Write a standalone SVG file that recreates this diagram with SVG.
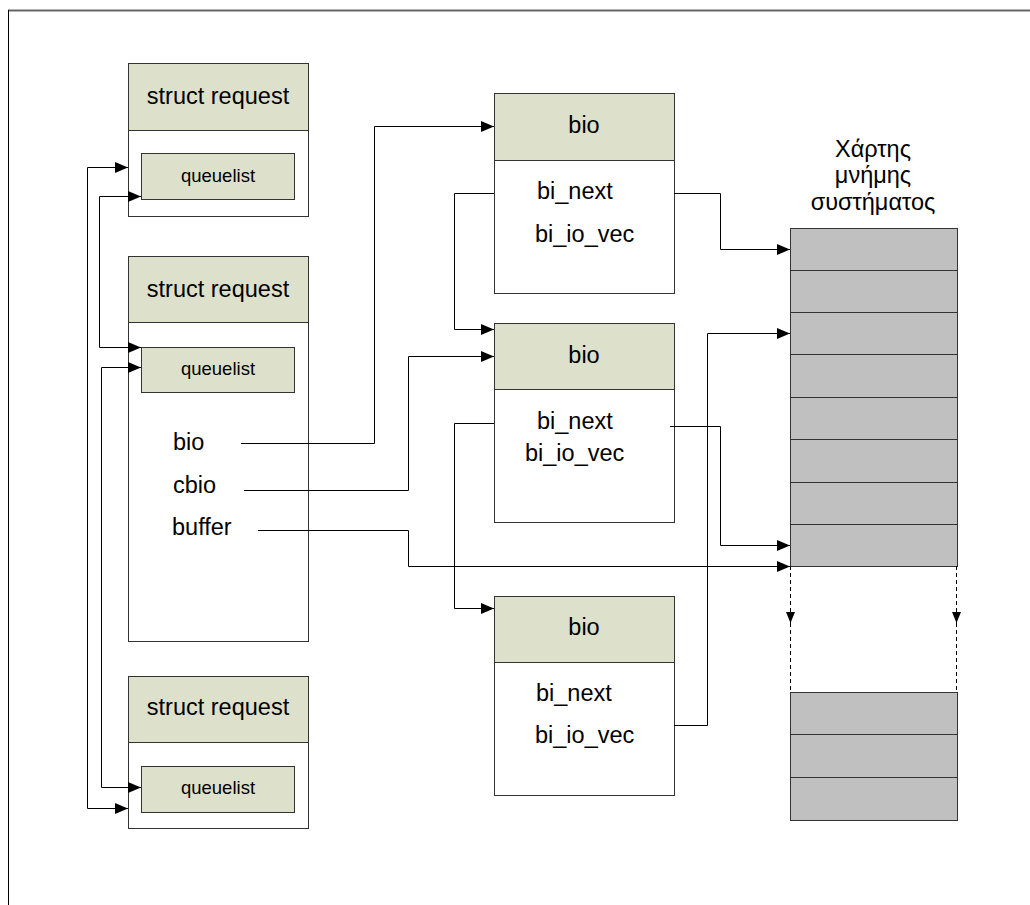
<svg xmlns="http://www.w3.org/2000/svg" width="1030" height="905" viewBox="0 0 1030 905">
  <style>
    text { font-family: "Liberation Sans", Arial, sans-serif; fill: #000; }
    .big { font-size: 23.5px; }
    .small { font-size: 18.5px; }
    .mid { text-anchor: middle; }
    .box { fill: #fff; stroke: #333; stroke-width: 1; }
    .head { fill: #dde1cc; stroke: #333; stroke-width: 1; }
    .mem { fill: #c0c0c0; stroke: #333; stroke-width: 1; }
    .wire { fill: none; stroke: #000; stroke-width: 1; }
    .dash { fill: none; stroke: #000; stroke-width: 1; stroke-dasharray: 4 3; }
  </style>
  <defs>
    <marker id="arrow" viewBox="0 0 13 11" refX="13" refY="5.5" markerWidth="13" markerHeight="11" markerUnits="userSpaceOnUse" orient="auto-start-reverse">
      <path d="M0,0 L13,5.5 L0,11 Z" fill="#000"/>
    </marker>
    <marker id="arrowSmall" viewBox="0 0 9 11" refX="4.5" refY="11" markerWidth="9" markerHeight="11" markerUnits="userSpaceOnUse" orient="0">
      <path d="M0,0 L9,0 L4.5,11 Z" fill="#000"/>
    </marker>
  </defs>

  <rect width="1030" height="905" fill="#fff"/>
  <!-- page frame -->
  <line x1="8" y1="10.5" x2="1030" y2="10.5" stroke="#666" stroke-width="2"/>
  <line x1="8.5" y1="10" x2="8.5" y2="905" stroke="#000" stroke-width="1"/>

  <!-- request structures -->
  <g id="request1">
    <rect class="box" x="128.5" y="63.5" width="180" height="153"/>
    <rect class="head" x="128.5" y="63.5" width="180" height="67"/>
    <text class="big mid" x="218" y="104">struct request</text>
    <rect class="head" x="141.5" y="153.5" width="153" height="46"/>
    <text class="small mid" x="218" y="182">queuelist</text>
  </g>
  <g id="request2">
    <rect class="box" x="128.5" y="256.5" width="180" height="385"/>
    <rect class="head" x="128.5" y="256.5" width="180" height="66"/>
    <text class="big mid" x="218" y="297">struct request</text>
    <rect class="head" x="141.5" y="347.5" width="153" height="45"/>
    <text class="small mid" x="218" y="375">queuelist</text>
    <text class="big" x="173" y="450">bio</text>
    <text class="big" x="173" y="493">cbio</text>
    <text class="big" x="172" y="535">buffer</text>
  </g>
  <g id="request3">
    <rect class="box" x="128.5" y="676.5" width="180" height="152"/>
    <rect class="head" x="128.5" y="676.5" width="180" height="66"/>
    <text class="big mid" x="218" y="715">struct request</text>
    <rect class="head" x="141.5" y="766.5" width="153" height="46"/>
    <text class="small mid" x="218" y="794">queuelist</text>
  </g>

  <!-- bio structures -->
  <g id="bio1">
    <rect class="box" x="494.5" y="93.5" width="180" height="200"/>
    <rect class="head" x="494.5" y="93.5" width="180" height="67"/>
    <text class="big mid" x="584" y="133">bio</text>
    <text class="big" x="537" y="199">bi_next</text>
    <text class="big" x="535" y="242">bi_io_vec</text>
  </g>
  <g id="bio2">
    <rect class="box" x="494.5" y="323.5" width="180" height="199"/>
    <rect class="head" x="494.5" y="323.5" width="180" height="66"/>
    <text class="big mid" x="584" y="363">bio</text>
    <text class="big" x="537" y="429">bi_next</text>
    <text class="big" x="525" y="461">bi_io_vec</text>
  </g>
  <g id="bio3">
    <rect class="box" x="494.5" y="596.5" width="180" height="199"/>
    <rect class="head" x="494.5" y="596.5" width="180" height="66"/>
    <text class="big mid" x="584" y="635">bio</text>
    <text class="big" x="536" y="701">bi_next</text>
    <text class="big" x="535" y="743">bi_io_vec</text>
  </g>

  <!-- system memory map -->
  <g id="memory">
    <text class="big mid" x="873" y="157">Χάρτης</text>
    <text class="big mid" x="873" y="183">μνήμης</text>
    <text class="big mid" x="873" y="210">συστήματος</text>
    <rect class="mem" x="790.5" y="228.5" width="167" height="42"/>
    <rect class="mem" x="790.5" y="270.5" width="167" height="42"/>
    <rect class="mem" x="790.5" y="312.5" width="167" height="42"/>
    <rect class="mem" x="790.5" y="354.5" width="167" height="43"/>
    <rect class="mem" x="790.5" y="397.5" width="167" height="42"/>
    <rect class="mem" x="790.5" y="439.5" width="167" height="43"/>
    <rect class="mem" x="790.5" y="482.5" width="167" height="42"/>
    <rect class="mem" x="790.5" y="524.5" width="167" height="42"/>
  </g>
  <g id="memory-tail">
    <rect class="mem" x="790.5" y="692.5" width="167" height="42"/>
    <rect class="mem" x="790.5" y="734.5" width="167" height="43"/>
    <rect class="mem" x="790.5" y="777.5" width="167" height="43"/>
  </g>

  <!-- connectors -->
  <g id="connectors">
    <!-- queuelist links between requests -->
    <path class="wire" d="M128,167.5 H87.5 V808.5 H128" marker-start="url(#arrow)" marker-end="url(#arrow)"/>
    <path class="wire" d="M141,196.5 H99.5 V347.5 H141" marker-start="url(#arrow)" marker-end="url(#arrow)"/>
    <path class="wire" d="M141,367.5 H101.5 V787.5 H141" marker-start="url(#arrow)" marker-end="url(#arrow)"/>
    <!-- request fields -->
    <path class="wire" d="M241,443.5 H374.5 V126.5 H494" marker-end="url(#arrow)"/>
    <path class="wire" d="M244,490.5 H408.5 V356.5 H494" marker-end="url(#arrow)"/>
    <path class="wire" d="M258,530.5 H408.5 V566.5 H790" marker-end="url(#arrow)"/>
    <!-- bi_next chain -->
    <path class="wire" d="M494,193.5 H454.5 V329.5 H494" marker-end="url(#arrow)"/>
    <path class="wire" d="M494,423.5 H454.5 V608.5 H494" marker-end="url(#arrow)"/>
    <!-- bi_io_vec to memory pages -->
    <path class="wire" d="M674,193.5 H720.5 V249.5 H790" marker-end="url(#arrow)"/>
    <path class="wire" d="M670,426.5 H720.5 V545.5 H790" marker-end="url(#arrow)"/>
    <path class="wire" d="M674,725.5 H707.5 V333.5 H790" marker-end="url(#arrow)"/>
    <!-- memory continuation -->
    <path class="dash" d="M790.5,566 V623" marker-end="url(#arrowSmall)"/>
    <path class="dash" d="M790.5,623 V690"/>
    <path class="dash" d="M956.5,566 V623" marker-end="url(#arrowSmall)"/>
    <path class="dash" d="M956.5,623 V690"/>
  </g>
</svg>
